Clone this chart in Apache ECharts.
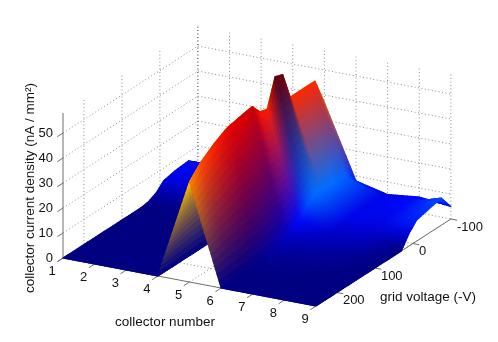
<!DOCTYPE html>
<html><head><meta charset="utf-8">
<style>html,body{margin:0;padding:0;background:#fff}#c{width:498px;height:342px}</style>
<script src="https://cdn.jsdelivr.net/npm/echarts@6/dist/echarts.min.js"></script>
</head><body><div id="c"></div>
<script>
// ---- data ----
const collectors = [1,2,3,4,5,6,7,8,9];
const voltages = [255,225,190,155,125,90,70,50,30,10,-10,-40,-75,-100];
const c1 = [0,0,0,0,0,0,0,0,0.5,2,5,6,6.5,3];
const c2 = [0,0,0,0,0,0,0,0,0.5,2,5,6,6.5,5];
const c3 = [0,0,0,0,0,0,0,0,0.5,2,5,6,6.5,5];
const c4 = [0,0,0,0,0,0,0,0,1,3,5,7,8,6];
const c5 = [40,45,49,52,53,54,50,49,60,59,48,48,48,37];
const c6 = [0,0,0,0.5,1.5,3,5,7,11,13,13,13,12,8];
const c7 = [0,0,0,0.5,1,2,3,4,5,6,6,6,6,5];
const c8 = [0,0,0,0,0.5,1,2,3,4,5,6,6.5,7,6.4];
const c9 = [0,0,0,0,0,0,0,0,0,5,8.4,9.6,10.8,5];
const heights = [c1,c2,c3,c4,c5,c6,c7,c8,c9];
const zTicks = [0,10,20,30,40,50];
const vTicks = [200,100,0,-100];
const cTicks = [1,2,3,4,5,6,7,8,9];
const zTop = 58;

// ---- view ----
const vFront = 255, vBack = -100;
function proj(c,v,z){
  const t=(vFront-v)/100;
  return [63+(c-1)*31.625+38*t, 258+(c-1)*6-24.5*t-2.5*z];
}
const stops=[[0,[0,0,130]],[3,[0,0,185]],[7,[0,10,250]],[13,[0,110,255]],[40,[255,130,0]],[45,[255,70,0]],[50,[250,20,0]],[53,[225,0,0]],[55,[190,0,10]],[60,[90,0,15]]];
const stopsUnder=[[0,[0,0,130]],[7,[0,10,250]],[30,[255,190,0]],[60,[255,190,0]]];
function cmap(z,s){
  for(let i=1;i<s.length;i++){ if(z<=s[i][0]){
    const a=s[i-1],b=s[i],k=(z-a[0])/(b[0]-a[0]);
    return a[1].map((x,j)=>x+(b[1][j]-x)*k);
  }}
  return s[s.length-1][1];
}
// surface fine cells, painted far to near
const SC=16,SV=5;
const cells=[];
for(let i=0;i<collectors.length-1;i++){
  for(let j=voltages.length-2;j>=0;j--){
    for(let a=0;a<SC;a++){ for(let b=SV-1;b>=0;b--){ cells.push([i,j,a,b]); } }
  }
}
function renderCell(p,api){
  const i=api.value(0),j=api.value(1),a=api.value(2),b=api.value(3);
  const cA=collectors[i],cB=collectors[i+1],vA=voltages[j],vB=voltages[j+1];
  const z00=heights[i][j],z10=heights[i+1][j],z01=heights[i][j+1],z11=heights[i+1][j+1];
  const st0=stops, under=(i===3);
  const col=[cmap(z00,st0),cmap(z10,under?stopsUnder:st0),cmap(z01,st0),cmap(z11,under?stopsUnder:st0)];
  const pt=(u,w)=>{
    const z=z00*(1-u)*(1-w)+z10*u*(1-w)+z01*(1-u)*w+z11*u*w;
    return api.coord(proj(cA+(cB-cA)*u,vA+(vB-vA)*w,z));
  };
  const u0=a/SC,u1=(a+1)/SC,w0=b/SV,w1=(b+1)/SV,um=(u0+u1)/2,wm=(w0+w1)/2;
  const rgb=[0,1,2].map(k=>Math.round(col[0][k]*(1-um)*(1-wm)+col[1][k]*um*(1-wm)+col[2][k]*(1-um)*wm+col[3][k]*um*wm));
  const c='rgb('+rgb.join(',')+')';
  return {type:'polygon',shape:{points:[pt(u0,w0),pt(u1,w0),pt(u1,w1),pt(u0,w1)]},style:{fill:c,stroke:c,lineWidth:1.1,lineJoin:'round'}};
}
// dotted walls and floor, solid axes, ticks: [c0,v0,z0,c1,v1,z1,kind]
const cMin=collectors[0],cMax=collectors[collectors.length-1];
const segs=[];
zTicks.filter(z=>z>0).forEach(z=>{segs.push([cMin,vFront,z,cMin,vBack,z,0]);segs.push([cMin,vBack,z,cMax,vBack,z,0]);});
vTicks.forEach(v=>{segs.push([cMin,v,0,cMin,v,zTop,v===vBack?1:0]);segs.push([cMin,v,0,cMax,v,0,0]);});
cTicks.forEach(c=>{if(c>cMin)segs.push([c,vBack,0,c,vBack,zTop,0]);segs.push([c,vFront,0,c,vBack,0,0]);});
segs.push([cMin,vFront,0,cMin,vFront,zTop,2],[cMin,vFront,0,cMax,vFront,0,2],[cMax,vFront,0,cMax,vBack,0,2]);
zTicks.forEach(z=>segs.push([cMin,vFront,z,cMin,vFront+15,z,2]));
cTicks.forEach(c=>segs.push([c,vFront,0,c,vFront+15,0,2]));
vTicks.forEach(v=>segs.push([cMax,v,0,cMax+0.2,v,0,2]));
function renderSeg(p,api){
  const a=api.coord(proj(api.value(0),api.value(1),api.value(2))),b=api.coord(proj(api.value(3),api.value(4),api.value(5)));
  const k=api.value(6);
  const style=k===2?{stroke:'#6e6e6e',lineWidth:1}:{stroke:k===1?'#222':'#8c8c8c',lineWidth:1,lineDash:[1,2.5]};
  return {type:'line',shape:{x1:a[0],y1:a[1],x2:b[0],y2:b[1]},style};
}
// tick labels: [c,v,z,dx,dy,text index]
const labels=[];
zTicks.forEach(z=>labels.push([cMin,vFront,z,-10,0,String(z),'right']));
cTicks.forEach(c=>labels.push([c,vFront,0,-11,13,String(c),'center']));
vTicks.forEach(v=>labels.push([cMax,v,0,6,8,String(v),'left']));
function renderLabel(p,api){
  const l=labels[p.dataIndex],a=api.coord(proj(l[0],l[1],l[2]));
  return {type:'text',x:a[0]+l[3],y:a[1]+l[4],style:{text:l[5],align:l[6],verticalAlign:'middle',fill:'#111',font:'13px "Liberation Sans"'}};
}
const chart=echarts.init(document.getElementById('c'),null,{renderer:'canvas',width:498,height:342});
const noAxis={type:'value',show:false};
const base={type:'custom',coordinateSystem:'cartesian2d',silent:true,clip:false,animation:false,progressive:0};
chart.setOption({
  animation:false,backgroundColor:'#fff',
  grid:{left:0,right:0,top:0,bottom:0},
  xAxis:Object.assign({min:0,max:498},noAxis),
  yAxis:Object.assign({min:0,max:342,inverse:true},noAxis),
  series:[
    Object.assign({},base,{data:segs,renderItem:renderSeg,encode:{x:0,y:1}}),
    Object.assign({},base,{data:cells,renderItem:renderCell,encode:{x:0,y:1}}),
    Object.assign({},base,{data:labels.map((l,i)=>[i,0]),renderItem:renderLabel,encode:{x:0,y:1}})
  ],
  graphic:[
    {type:'text',x:165,y:322,style:{text:'collector number',align:'center',verticalAlign:'middle',fill:'#111',font:'13.5px "Liberation Sans"'}},
    {type:'text',x:428,y:297,style:{text:'grid voltage (-V)',align:'center',verticalAlign:'middle',fill:'#111',font:'13.5px "Liberation Sans"'}},
    {type:'text',x:30,y:188,rotation:Math.PI/2,style:{text:'collector current density (nA / mm²)',align:'center',verticalAlign:'middle',fill:'#111',font:'13.5px "Liberation Sans"'}}
  ]
});
</script></body></html>
